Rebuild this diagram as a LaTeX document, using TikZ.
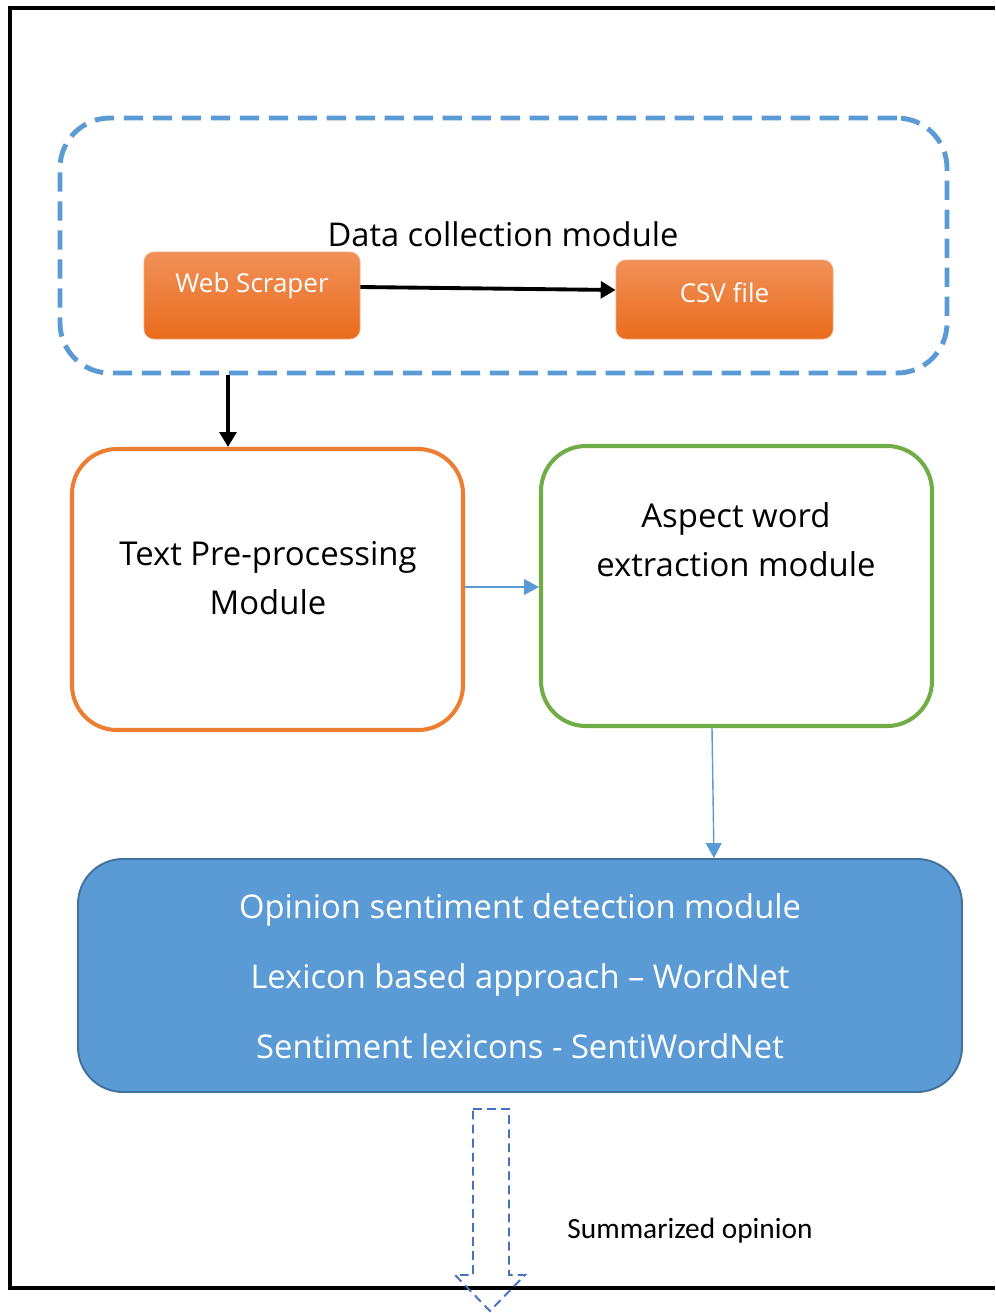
\documentclass[tikz,border=0pt]{standalone}
\usepackage{fontspec}
\setmainfont{Open Sans}
\newfontfamily\calibrifont{Carlito}
\usetikzlibrary{arrows.meta}
\definecolor{CollectBlue}{HTML}{5B9BD5}
\definecolor{ScraperTop}{HTML}{F19058}
\definecolor{ScraperBottom}{HTML}{E96C1D}
\definecolor{PreOrange}{HTML}{ED7D31}
\definecolor{AspectGreen}{HTML}{70AD47}
\definecolor{OpinionEdge}{HTML}{41719C}
\definecolor{SummaryBlue}{HTML}{4472C4}

\tikzset{
  orangebox/.style={rounded corners=2mm, top color=ScraperTop, bottom color=ScraperBottom,
    draw=ScraperTop!80!white, line width=0.4pt},
  modulebox/.style={rounded corners=9mm, line width=2.3pt, fill=white},
  whitetext/.style={text=white, font=\fontsize{14.8}{18}\selectfont},
  moduletext/.style={align=center, font=\fontsize{18.7}{28}\selectfont},
  blackarrow/.style={line width=2.2pt, -{Triangle[length=8.5pt,width=9.5pt]}},
  bluearrow/.style={draw=CollectBlue, line width=0.8pt, -{Triangle[length=8.5pt,width=9pt]}},
}

\begin{document}
\begin{tikzpicture}[x=0.2mm, y=-0.2mm]
    \useasboundingbox (0,0) rectangle (995,1313);

    % outer frame, open on the right
    \draw[line width=1.8pt] (995,8) -- (10,8) -- (10,1288) -- (995,1288);

    % data collection
    \node[draw=CollectBlue, line width=2.8pt, dash pattern=on 11pt off 5.5pt,
          rounded corners=10mm, minimum width=887*0.2mm, minimum height=255*0.2mm]
          (collect) at (503.5,245.5) {};
    \node[font=\fontsize{18.6}{22}\selectfont] (collecttitle) at (503,234) {Data collection module};
    \node[orangebox, minimum width=216*0.2mm, minimum height=87*0.2mm] (web) at (252,295.5) {};
    \node[whitetext] (webtext) at (252,286) {Web Scraper};
    \node[orangebox, minimum width=217*0.2mm, minimum height=79*0.2mm] (csv) at (724.5,299.5) {};
    \node[whitetext] (csvtext) at (724.5,293) {CSV file};
    \draw[blackarrow] (web.east |- 0,287) -- (csv.west |- 0,290);

    % modules
    \node[modulebox, draw=PreOrange, minimum width=391*0.2mm, minimum height=281*0.2mm]
          (pre) at (267.5,589.5) {};
    \node[moduletext] (pretext) at (268,578) {Text Pre-processing\\Module};
    \node[modulebox, draw=AspectGreen, minimum width=391*0.2mm, minimum height=280*0.2mm]
          (aspect) at (736.5,586) {};
    \node[moduletext] (aspecttext) at (736,540) {Aspect word\\extraction module};
    \node[rounded corners=9mm, fill=CollectBlue, draw=OpinionEdge, line width=1.1pt,
          minimum width=884*0.2mm, minimum height=233*0.2mm] (opinion) at (520,975.5) {};
    \node[align=center, text=white, font=\fontsize{18.6}{39.7}\selectfont] (opiniontext) at (520,976)
          {Opinion sentiment detection module\\Lexicon based approach -- WordNet\\Sentiment lexicons - SentiWordNet};

    \draw[blackarrow] (collect.south -| 228,0) -- (pre.north -| 228,0);
    \draw[bluearrow] (pre.east |- 0,587) -- (aspect.west |- 0,587);
    \draw[bluearrow] (aspect.south -| 712,0) -- (opinion.north -| 714,0);

    % summarized opinion block arrow
    \draw[SummaryBlue, line width=1.1pt, dash pattern=on 5pt off 3pt]
        (473,1109) -- (509,1109) -- (509,1275) -- (525,1275) -- (490,1311)
        -- (455,1275) -- (473,1275) -- cycle;
    \node[font=\calibrifont\fontsize{16.7}{20}\selectfont] (summary) at (690,1231) {Summarized opinion};
\end{tikzpicture}
\end{document}
